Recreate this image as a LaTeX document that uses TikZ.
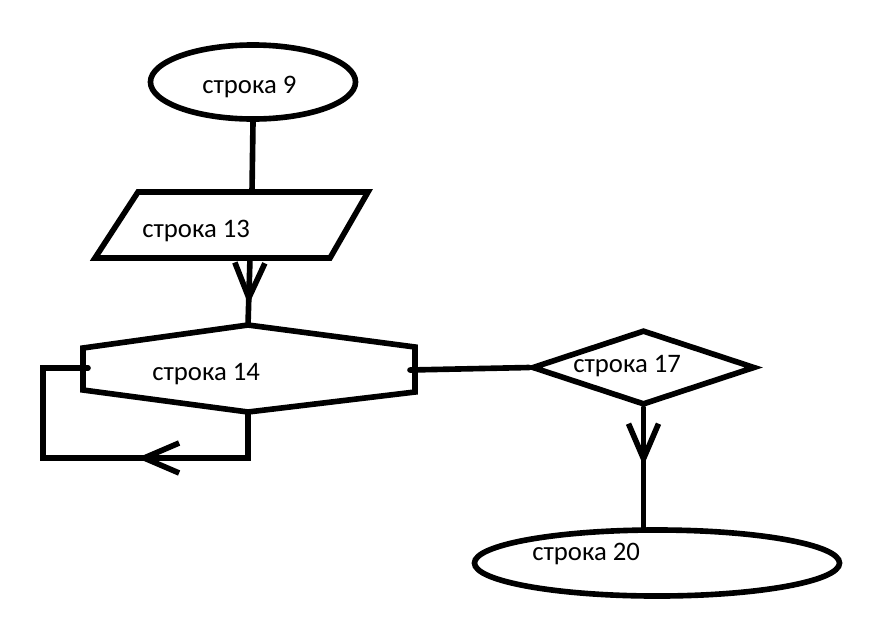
\documentclass[tikz,border=0pt]{standalone}
\usepackage{fontspec}
\setmainfont{Carlito}
\usetikzlibrary{arrows.meta, shapes.geometric, decorations.markings}

\begin{document}
\begin{tikzpicture}[
  x=0.025cm, y=-0.025cm,
  line/.style={line width=4pt, line cap=round},
  term/.style={draw, ellipse, line width=4pt, inner sep=0pt},
  cond/.style={draw, diamond, line width=4pt, inner sep=0pt},
  txt/.style={anchor=base west, inner sep=0pt, font=\fontsize{19}{23}\selectfont},
  midarrow/.style={postaction={decorate}, decoration={markings,
    mark=at position #1 with {\arrow{Straight Barb[length=0.875cm, width=0.75cm]}}}}
]
  \path[fill=white, use as bounding box] (0,0) rectangle (886,620);

  \node[term, minimum width=5.125cm, minimum height=1.85cm] (n9) at (253,82) {};
  \node[txt] (t9) at (202,93) {строка 9};

  \draw[line] (138,192) -- (368,192) -- (330,258) -- (95,258) -- cycle;
  \coordinate (n13t) at (252,192);
  \coordinate (n13b) at (250,258);
  \node[txt] (t13) at (142,237) {строка 13};

  \draw[line] (83,348) -- (248,325) -- (415,347) -- (415,392) -- (248,412) -- (83,390) -- cycle;
  \coordinate (n14t) at (248,325);
  \coordinate (n14b) at (248,412);
  \coordinate (n14w) at (88,368);
  \coordinate (n14e) at (410,370);
  \node[txt] (t14) at (152,380) {строка 14};

  \node[cond, minimum width=5.575cm, minimum height=1.875cm] (n17) at (643.5,367.5) {};
  \node[txt] (t17) at (573,372) {строка 17};

  \node[term, minimum width=9.125cm, minimum height=1.65cm] (n20) at (657,563) {};
  \node[txt] (t20) at (532,560) {строка 20};

  \coordinate (lp) at (43,458);
  \draw[line] (n9.south) -- (n13t);
  \draw[line, midarrow=1.175cm] (n13b) -- (n14t);
  \draw[line, midarrow=3.925cm] (n14b) |- (lp) |- (n14w);
  \draw[line] (n14e) -- (n17.west);
  \draw[line, midarrow=1.45cm] (n17.south) -- (n17.south |- n20.north);
\end{tikzpicture}
\end{document}
